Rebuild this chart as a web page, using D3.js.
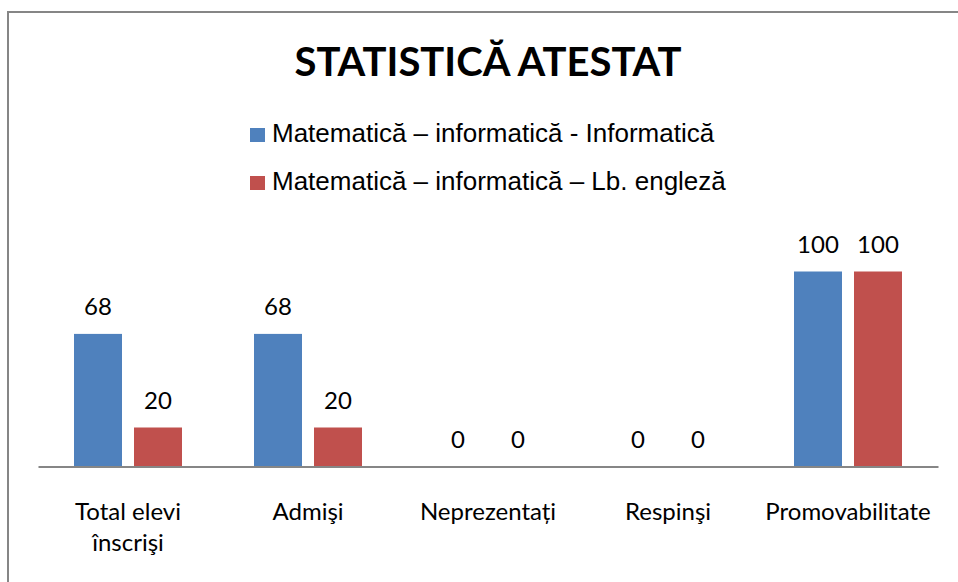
<!DOCTYPE html>
<html>
<head>
<meta charset="utf-8">
<script src="https://cdn.jsdelivr.net/npm/d3@7"></script>
<style>
  body { margin: 0; background: #fff; }
  svg text { fill: #000; }
</style>
</head>
<body>
<div id="chart"></div>
<script>
var categories = ["Total elevi\nînscrişi", "Admişi", "Neprezentați", "Respinşi", "Promovabilitate"];
var seriesNames = ["Matematică – informatică - Informatică", "Matematică – informatică – Lb. engleză"];
var informatica = [68, 68, 0, 0, 100];
var engleza = [20, 20, 0, 0, 100];
var colors = ["#4f81bd", "#c0504d"];

var width = 958,
    height = 582;

var svg = d3.select("#chart").append("svg")
    .attr("width", width)
    .attr("height", height);

// chart frame (right and bottom edges fall outside the picture)
svg.append("rect")
    .attr("x", 8).attr("y", 12)
    .attr("width", 970).attr("height", 600)
    .attr("fill", "none")
    .attr("stroke", "#868686")
    .attr("stroke-width", 2);

svg.append("text")
    .attr("x", 488).attr("y", 76)
    .attr("text-anchor", "middle")
    .style("font-family", "Lato, 'Open Sans', sans-serif")
    .style("font-weight", "bold")
    .style("font-size", "40px")
    .text("STATISTICĂ ATESTAT");

// legend
var legend = svg.selectAll(".legend")
    .data(seriesNames)
    .enter().append("g")
    .attr("class", "legend")
    .attr("transform", function(d, i) { return "translate(250," + (142 + i * 48) + ")"; });

legend.append("rect")
    .attr("x", 0).attr("y", -14)
    .attr("width", 15).attr("height", 14)
    .attr("fill", function(d, i) { return colors[i]; });

legend.append("text")
    .attr("x", 22)
    .style("font-family", "'Liberation Sans', Arial, sans-serif")
    .style("font-size", "26px")
    .text(function(d) { return d; });

var x0 = d3.scaleBand()
    .domain(categories)
    .range([38, 938]);

var x1 = d3.scaleBand()
    .domain([0, 1])
    .range([36, 144])
    .paddingInner(0.2);

var y = d3.scaleLinear()
    .domain([0, 120])
    .range([466.5, 232.5]);

var rows = categories.map(function(c, i) {
    return { cat: c, values: [informatica[i], engleza[i]] };
});

var group = svg.selectAll(".group")
    .data(rows)
    .enter().append("g")
    .attr("class", "group")
    .attr("transform", function(d) { return "translate(" + x0(d.cat) + ",0)"; });

group.selectAll("rect")
    .data(function(d) { return d.values; })
    .enter().append("rect")
    .attr("x", function(d, i) { return x1(i); })
    .attr("y", function(d) { return y(d); })
    .attr("width", x1.bandwidth())
    .attr("height", function(d) { return y(0) - y(d); })
    .attr("fill", function(d, i) { return colors[i]; });

group.selectAll(".val")
    .data(function(d) { return d.values; })
    .enter().append("text")
    .attr("class", "val")
    .attr("x", function(d, i) { return x1(i) + x1.bandwidth() / 2; })
    .attr("y", function(d) { return y(d) - 19; })
    .attr("text-anchor", "middle")
    .style("font-family", "Lato, 'Open Sans', sans-serif")
    .style("font-size", "24px")
    .text(function(d) { return d; });

// category axis
var xAxis = d3.axisBottom(x0).tickSize(0).tickFormat("");
var axisG = svg.append("g")
    .attr("transform", "translate(0," + y(0) + ")")
    .call(xAxis);
axisG.select(".domain").attr("stroke", "#868686").attr("stroke-width", 2);

axisG.selectAll(".tick").each(function(d) {
    var t = d3.select(this).append("text")
        .attr("text-anchor", "middle")
        .attr("y", 53)
        .style("font-family", "Lato, 'Open Sans', sans-serif")
        .style("font-size", "24px");
    d.split("\n").forEach(function(line, i) {
        t.append("tspan").attr("x", 0).attr("dy", i ? 31 : 0).text(line);
    });
});
</script>
</body>
</html>
